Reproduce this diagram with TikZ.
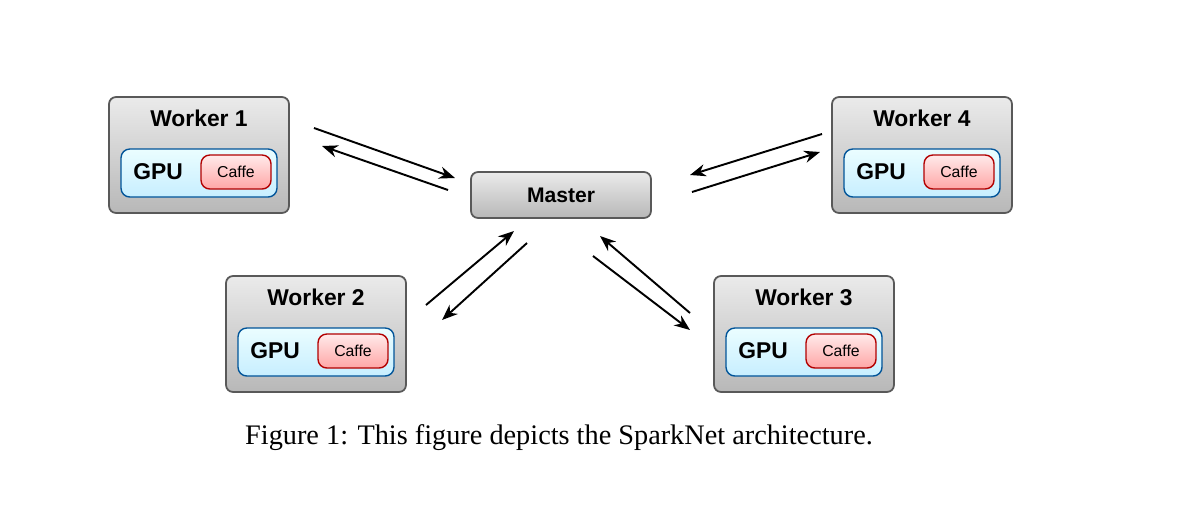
\documentclass[tikz,border=0pt]{standalone}
\usepackage{fontspec}
\setmainfont{Liberation Serif}
\newfontfamily\boxfont{Liberation Sans}
\usetikzlibrary{arrows.meta, positioning}

\begin{document}
\begin{tikzpicture}[x=0.02cm, y=-0.02cm, >={Stealth[length=9pt,width=7pt]}, line width=1.1pt]
    \tikzstyle{worker}=[draw=black!65, line width=1pt, rounded corners=4pt, top color=white!92!black, bottom color=black!28, minimum width=3.6cm, minimum height=2.32cm, inner sep=0pt]
    \tikzstyle{gpu}=[draw=blue!45!cyan!60!black, line width=0.8pt, rounded corners=5pt, top color=blue!8!cyan!8, bottom color=blue!30!cyan!22, minimum width=3.12cm, minimum height=0.96cm, inner sep=0pt]
    \tikzstyle{caffe}=[draw=red!70!black, line width=0.8pt, rounded corners=5pt, top color=red!8, bottom color=red!35, minimum width=1.4cm, minimum height=0.68cm, font=\boxfont\small]
    \tikzstyle{lbl}=[font=\boxfont\bfseries\fontsize{13}{15}\selectfont]
    \useasboundingbox (0,0) rectangle (1200,505);

    % workers
    \foreach \n/\x/\y in {1/199/155, 4/922/155, 2/316/334, 3/804/334} {
        \node[worker] (W-\n) at (\x,\y) {};
        \node[lbl] (T-\n) at (\x,\y-37) {Worker \n};
        \node[gpu] (G-\n) at (\x,\y+18) {};
        \node[lbl] (P-\n) at (\x-41,\y+17) {GPU};
        \node[caffe] (C-\n) at (\x+37,\y+17) {Caffe};
    }
    \node[worker, minimum height=0.92cm, font=\boxfont\bfseries\fontsize{12}{14}\selectfont] (M) at (561,195) {Master};

    % arrow ends
    \coordinate (a1) at (314,128); \coordinate (b1) at (455,178);
    \coordinate (c1) at (448,190); \coordinate (d1) at (322,146);
    \coordinate (a4) at (822,134); \coordinate (b4) at (690,175);
    \coordinate (c4) at (692,192); \coordinate (d4) at (820,152);
    \coordinate (a2) at (426,305); \coordinate (b2) at (514,231);
    \coordinate (c2) at (527,243); \coordinate (d2) at (442,320);
    \coordinate (a3) at (593,256); \coordinate (b3) at (690,330);
    \coordinate (c3) at (690,313); \coordinate (d3) at (600,236);
    \foreach \n in {1,2,3,4} {
        \draw[->] (a\n) -- (b\n);
        \draw[->] (c\n) -- (d\n);
    }

    \node[font=\fontsize{16.1}{19}\selectfont] (cap) at (559,438) {Figure 1: This figure depicts the SparkNet architecture.};
\end{tikzpicture}
\end{document}
